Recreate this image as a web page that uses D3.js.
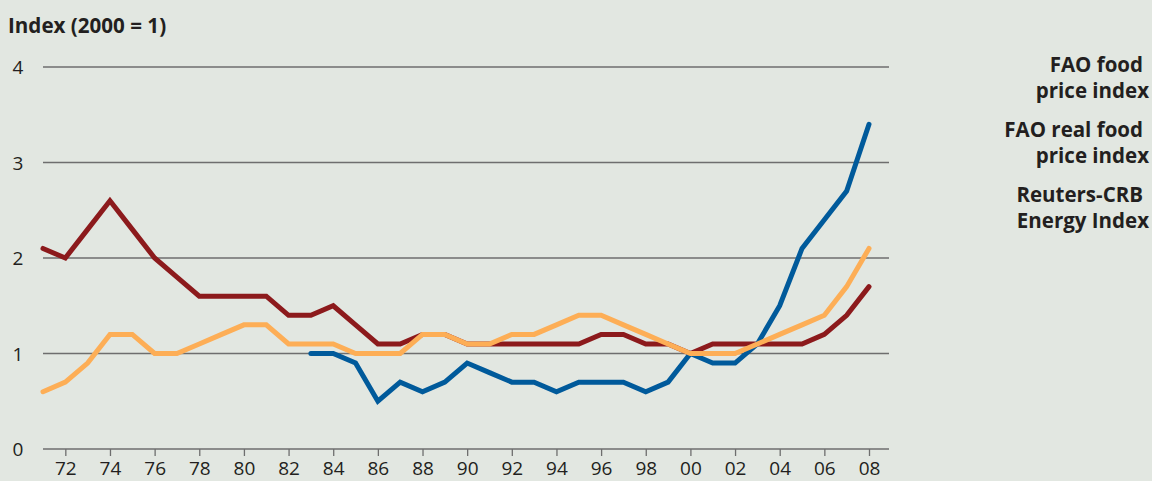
<!DOCTYPE html>
<html>
<head>
<meta charset="utf-8">
<title>Food and energy price indices</title>
<style>
body { margin: 0; background: #e2e7e1; }
svg { display: block; }
text { font-family: "Open Sans", sans-serif; fill: #231f20; }
.grid line { stroke: #6e6e6e; stroke-width: 1.3px; }
.tick-label { font-size: 19px; }
.title { font-size: 20.6px; font-weight: 700; }
.legend text { font-size: 20.5px; font-weight: 700; }
.series { fill: none; stroke-width: 5px; stroke-linejoin: miter; stroke-linecap: round; }
</style>
</head>
<body>
<svg width="1152" height="481"></svg>
<script src="https://d3js.org/d3.v7.min.js"></script>
<script>

var years = d3.range(1971, 2009);

var foodIndex = [0.6, 0.7, 0.9, 1.2, 1.2, 1.0, 1.0, 1.1, 1.2, 1.3,
                 1.3, 1.1, 1.1, 1.1, 1.0, 1.0, 1.0, 1.2, 1.2, 1.1,
                 1.1, 1.2, 1.2, 1.3, 1.4, 1.4, 1.3, 1.2, 1.1, 1.0,
                 1.0, 1.0, 1.1, 1.2, 1.3, 1.4, 1.7, 2.1];

var realFoodIndex = [2.1, 2.0, 2.3, 2.6, 2.3, 2.0, 1.8, 1.6, 1.6, 1.6,
                     1.6, 1.4, 1.4, 1.5, 1.3, 1.1, 1.1, 1.2, 1.2, 1.1,
                     1.1, 1.1, 1.1, 1.1, 1.1, 1.2, 1.2, 1.1, 1.1, 1.0,
                     1.1, 1.1, 1.1, 1.1, 1.1, 1.2, 1.4, 1.7];

// energy index only starts in 1983
var energyIndex = [null, null, null, null, null, null, null, null, null, null,
                   null, null, 1.0, 1.0, 0.9, 0.5, 0.7, 0.6, 0.7, 0.9,
                   0.8, 0.7, 0.7, 0.6, 0.7, 0.7, 0.7, 0.6, 0.7, 1.0,
                   0.9, 0.9, 1.1, 1.5, 2.1, 2.4, 2.7, 3.4];

var yTicks = [0, 1, 2, 3, 4];
var xTicks = d3.range(1972, 2009, 2);

var legendItems = [
  ["FAO food", "price index"],
  ["FAO real food", "price index"],
  ["Reuters-CRB", "Energy Index"]
];

var svg = d3.select("svg");

var x = d3.scaleLinear().domain([1971, 2008]).range([43, 869]);
var y = d3.scaleLinear().domain([0, 4]).range([449, 67]);

svg.append("text")
    .attr("class", "title")
    .attr("x", 8)
    .attr("y", 33)
    .text("Index (2000 = 1)");

// horizontal gridlines
var grid = svg.append("g").attr("class", "grid");
grid.selectAll("line")
    .data(yTicks)
    .enter().append("line")
      .attr("x1", 43)
      .attr("x2", 889)
      .attr("y1", function(d) { return y(d); })
      .attr("y2", function(d) { return y(d); });

svg.selectAll(".ylab")
    .data(yTicks)
    .enter().append("text")
      .attr("class", "tick-label ylab")
      .attr("x", 18)
      .attr("y", function(d) { return y(d) + 7; })
      .attr("text-anchor", "middle")
      .text(function(d) { return d; });

// x axis: ticks hanging under the zero line
var xAxis = d3.axisBottom(x)
    .tickValues(xTicks)
    .tickSize(7)
    .tickFormat(function(d) { return d3.format("02")(d % 100); });

var gx = svg.append("g")
    .attr("transform", "translate(0," + y(0) + ")")
    .call(xAxis);
gx.select(".domain").remove();
gx.selectAll(".tick line").attr("stroke", "#6e6e6e").attr("stroke-width", 1.3);
gx.selectAll(".tick text")
    .attr("class", "tick-label")
    .attr("fill", "#231f20")
    .attr("y", 26)
    .attr("dy", null)
    .style("font-size", "19px")
    .style("font-family", "'Open Sans', sans-serif");

var line = d3.line()
    .defined(function(d) { return d[1] != null; })
    .x(function(d) { return x(d[0]); })
    .y(function(d) { return y(d[1]); });

function pairs(values) {
  return years.map(function(yr, i) { return [yr, values[i]]; });
}

svg.append("path")
    .attr("class", "series")
    .attr("stroke", "#8c1a1c")
    .attr("d", line(pairs(realFoodIndex)));

svg.append("path")
    .attr("class", "series")
    .attr("stroke", "#005a9b")
    .attr("d", line(pairs(energyIndex)));

svg.append("path")
    .attr("class", "series")
    .attr("stroke", "#fdae56")
    .attr("d", line(pairs(foodIndex)));

// first lines end a little short of the right edge, as in the original
var legend = svg.append("g").attr("class", "legend");
legend.selectAll("text")
    .data(legendItems)
    .enter().append("text")
      .attr("text-anchor", "end")
      .attr("y", function(d, i) { return 72 + i * 65; })
      .each(function(d) {
        var t = d3.select(this);
        t.append("tspan").attr("x", 1143).text(d[0]);
        t.append("tspan").attr("x", 1149).attr("dy", 26).text(d[1]);
      });

</script>
</body>
</html>
